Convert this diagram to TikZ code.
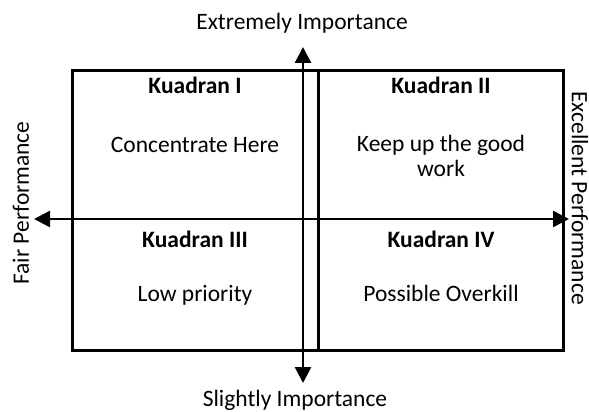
\documentclass[tikz,border=0pt]{standalone}
\usepackage{fontspec}
\setmainfont{Carlito}
\usetikzlibrary{arrows.meta}

\tikzset{
  lbl/.style={font=\fontsize{23.5}{25}\selectfont, inner sep=0pt, align=center},
  kuadran/.style={lbl, font=\fontsize{23.5}{25}\selectfont\bfseries},
  axis/.style={line width=2.5pt, {Triangle[length=16pt,width=16pt]}-{Triangle[length=16pt,width=16pt]}},
  frame/.style={line width=3pt}
}

\begin{document}
\begin{tikzpicture}[x=1pt, y=-1pt]
\useasboundingbox (0,0) rectangle (589,412);

%\draw[help lines] (0,0) grid[step=50] (589,412);
\draw[frame] (72,71) rectangle (563,350);
\draw[frame] (318,71) -- (318,350);

\coordinate (top) at (303,47);
\coordinate (bottom) at (303,383);
\coordinate (left) at (34,219);
\coordinate (right) at (569,219);

\path (195,93) node[kuadran, anchor=base] (k1) {Kuadran I};
\path (441,93) node[kuadran, anchor=base] (k2) {Kuadran II};
\path (195,247) node[kuadran, anchor=base] (k3) {Kuadran III};
\path (441,247) node[kuadran, anchor=base] (k4) {Kuadran IV};

\path (195,152) node[lbl, anchor=base] (q1) {Concentrate Here};
\path (441,176) node[lbl, anchor=base] (q2) {Keep up the good\\work};
\path (195,301) node[lbl, anchor=base] (q3) {Low priority};
\path (441,301) node[lbl, anchor=base] (q4) {Possible Overkill};

\path (302,30) node[lbl, anchor=base] (up) {Extremely Importance};
\path (295,406) node[lbl, anchor=base] (down) {Slightly Importance};
\path (21,203) node[lbl, rotate=90] (fair) {Fair Performance};
\path (580,198) node[lbl, rotate=-90] (excellent) {Excellent Performance};

\draw[axis] (left) -- (right);
\draw[axis] (top) -- (bottom);
\end{tikzpicture}
\end{document}
